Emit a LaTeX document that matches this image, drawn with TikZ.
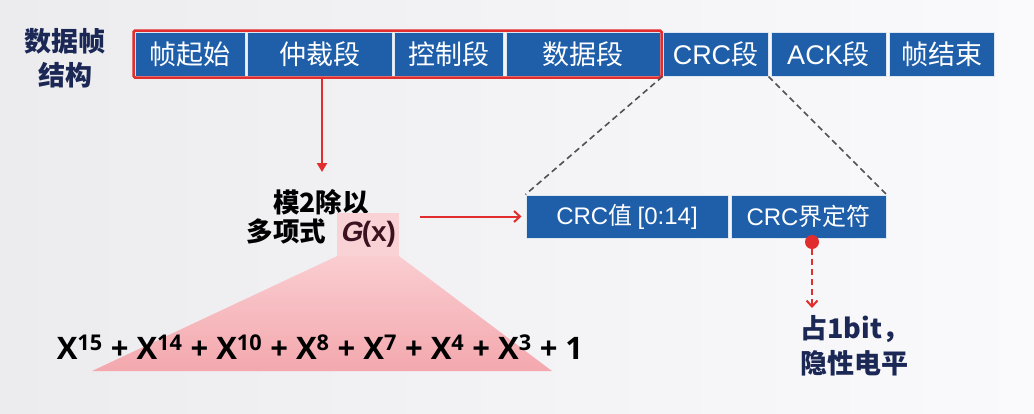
\documentclass[tikz,border=0pt]{standalone}
\usepackage{fontspec}
\setmainfont{Noto Sans CJK SC}
\newfontfamily\latf{Liberation Sans}
\newfontfamily\gslant{Liberation Sans Bold}[FakeSlant=0.22]
\newfontfamily\gup{Liberation Sans Bold}
\newfontfamily\polyf{Open Sans}
\usetikzlibrary{arrows.meta,fit,shadings}
\definecolor{segblue}{RGB}{31,95,170}
\definecolor{navy}{RGB}{27,40,85}
\definecolor{redl}{RGB}{225,45,45}
\definecolor{pinkbox}{RGB}{249,210,214}
\definecolor{pinktop}{RGB}{250,205,208}
\definecolor{pinkbot}{RGB}{243,168,174}
\definecolor{dashgray}{RGB}{80,80,85}
\definecolor{maroon}{RGB}{60,18,32}
\newcommand{\sps}[1]{\textsuperscript{#1}}
\begin{document}
\begin{tikzpicture}[x=1pt,y=-1pt,
  seg/.style={fill=segblue,draw=white!85!segblue,line width=1pt,text=white,
    minimum height=44,inner sep=0pt,font=\fontsize{27}{32}\selectfont},
  crcseg/.style={seg,minimum height=43,font=\fontsize{24}{30}\selectfont},
  titletext/.style={text=navy,font=\bfseries\fontsize{27}{34}\selectfont,align=center},
  blacktext/.style={text=black,font=\bfseries\fontsize{26.5}{32}\selectfont},
  redarrow/.style={draw=redl,line width=2pt},
  dashline/.style={draw=dashgray,line width=1.6pt,dash pattern=on 6pt off 4pt}]
\useasboundingbox (0,0) rectangle (1034,413);
\shade[left color={rgb,255:red,236;green,236;blue,239},right color={rgb,255:red,250;green,250;blue,252}] (0,0) rectangle (1034,413);

% title
\node[titletext] (title) at (65,58) {数据帧\\结构};

% top segments
\node[seg,minimum width=110] (b1) at (190,54) {帧起始};
\node[seg,minimum width=145] (b2) at (319.5,54) {仲裁段};
\node[seg,minimum width=109] (b3) at (448.5,54) {控制段};
\node[seg,minimum width=154] (b4) at (583,54) {数据段};
\node[seg,minimum width=105] (b5) at (715.5,54) {{\latf CRC}段};
\node[seg,minimum width=115] (b6) at (828.5,54) {{\latf ACK}段};
\node[seg,minimum width=105] (b7) at (941.5,54) {帧结束};

% red outline
\node[fit=(b1)(b4),draw=redl,line width=2.5pt,inner sep=1pt,rounded corners=1.5pt] (redbox) {};

% CRC detail
\node[crcseg,minimum width=202] (crc1) at (627,216.5) {{\latf CRC}值 {\latf [0:14]}};
\node[crcseg,minimum width=155] (crc2) at (808.5,216.5) {{\latf CRC}界定符};
\draw[dashline] (b5.south west) -- (crc1.north west);
\draw[dashline] (b5.south east) -- (crc2.north east);

% modulo text
\node[blacktext] (mod) at (321,202) {模2除以};
\node[fill=pinkbox,minimum width=62,minimum height=43,inner sep=0pt] (gx) at (368,234.5)
  {\fontsize{28}{30}\selectfont\color{maroon}{\gslant G}{\gup (x)}};
\node[blacktext,anchor=east] (poly) at (330,231) {多项式};

% triangle
\shade[top color=pinktop,bottom color=pinkbot] (gx.south west) -- (gx.south east) -- (552,371) -- (92,371) -- cycle;
\node[text=black,font=\polyf\bfseries\fontsize{31}{36}\selectfont] (eq) at (320,347)
  {X\sps{15} + X\sps{14} + X\sps{10} + X\sps{8} + X\sps{7} + X\sps{4} + X\sps{3} + 1};

% red arrows
\coordinate (a1s) at (redbox.south -| 322,0);
\coordinate (a1e) at (322,172);
\draw[redarrow,-{Triangle[length=9pt,width=10pt]}] (a1s) -- (a1e);
\coordinate (a2s) at (420,216.5);
\draw[redarrow,-{Straight Barb[length=6pt,width=11pt]}] (a2s) -- ([xshift=-4pt]crc1.west);

% red dot + dashed arrow
\node[circle,fill=redl,minimum size=14,inner sep=0pt] (dot) at (812,242) {};
\coordinate (a3e) at (812,308);
\draw[redl,line width=2pt,dash pattern=on 6pt off 4pt,-{Straight Barb[length=6pt,width=11pt]}] (dot.south) -- (a3e);

\node[titletext,align=left,anchor=north west,font=\bfseries\fontsize{27}{35}\selectfont] (bit) at (797,312) {占1bit，\\隐性电平};
\end{tikzpicture}
\end{document}
